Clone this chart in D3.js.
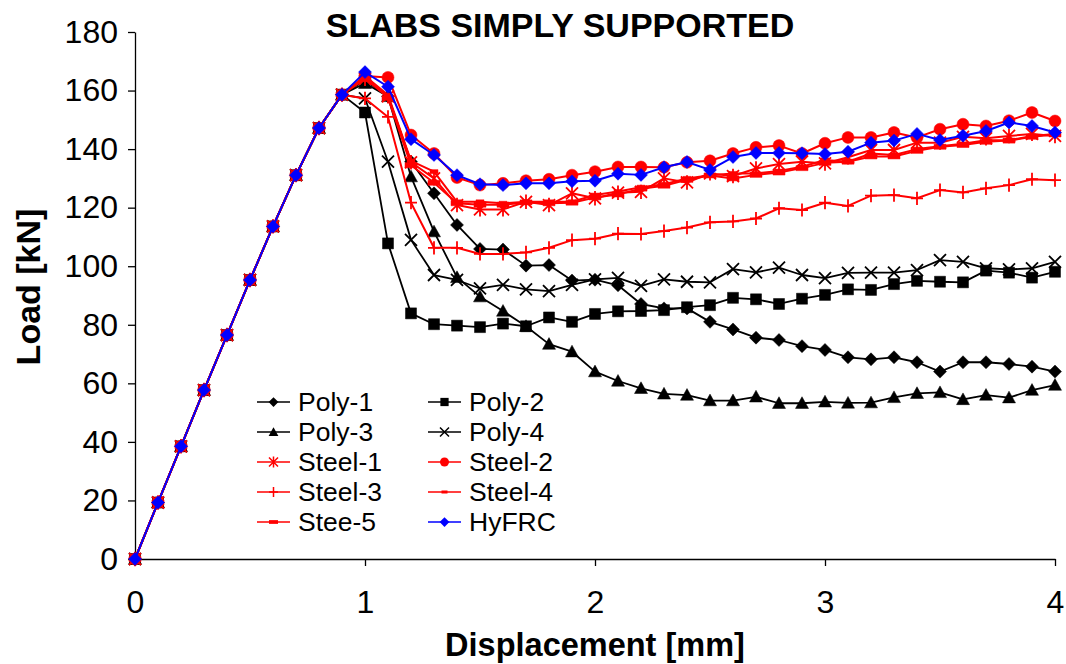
<!DOCTYPE html>
<html>
<head>
<meta charset="utf-8">
<script src="https://cdn.jsdelivr.net/npm/d3@7"></script>
<style>
  html, body { margin: 0; padding: 0; background: #fff; }
  svg { display: block; font-family: "Liberation Sans", Arial, sans-serif; }
</style>
</head>
<body>
<svg id="chart" width="1066" height="664"></svg>
<script>
// ---------- data ----------
const displacement = d3.range(0, 41).map(i => i / 10);
const xTicks = [0, 1, 2, 3, 4];
const yTicks = [0, 20, 40, 60, 80, 100, 120, 140, 160, 180];
const rise = [0, 19.3, 38.5, 57.7, 76.5, 95.3, 113.6, 131.1, 147.2, 158.6];

const poly1 = rise.concat([163.5, 158, 135.7, 124.9, 114.1, 105.9, 105.7, 100.2, 100.4, 95.1, 95.4, 93.5, 87.1, 85.6, 85.6, 81, 78.4, 75.6, 74.8, 72.7, 71.4, 68.9, 68.2, 68.9, 67.2, 64, 67.2, 67.2, 66.6, 65.7, 64]);
const poly2 = rise.concat([152.5, 107.8, 83.9, 80.2, 79.7, 79.2, 80.4, 79.5, 82.5, 81, 83.7, 84.6, 84.7, 85, 86, 86.7, 89.2, 88.7, 87.1, 88.9, 90.2, 92.1, 91.9, 93.9, 95, 94.7, 94.5, 98.5, 97.8, 96.1, 98.1]);
const poly3 = rise.concat([162.5, 158, 130.6, 111.8, 96.2, 89.6, 84.7, 79.5, 73.4, 70.8, 64, 60.8, 58.3, 56.4, 56, 54.1, 54.1, 55.4, 53.2, 53.2, 53.7, 53.3, 53.4, 55.2, 56.6, 56.9, 54.5, 56, 55.1, 57.7, 59.4]);
const poly4 = rise.concat([157.3, 135.7, 109, 97, 95.3, 92.4, 93.6, 92.1, 91.5, 93.6, 95.5, 96, 93.3, 95.5, 94.7, 94.5, 99, 97.9, 99.5, 97, 95.9, 97.7, 97.8, 97.8, 98.7, 102.1, 101.5, 99.3, 98.9, 99.3, 101.5]);
const steel1 = rise.concat([164, 158, 135.5, 130, 120.9, 119.4, 119.4, 122, 120.9, 124.9, 123.2, 125.1, 125.4, 130, 128.6, 131.7, 130.8, 133.4, 134.9, 135.7, 135.1, 137.2, 139.7, 139.7, 142.2, 142.2, 144.2, 143.7, 144.5, 145.2, 144.5]);
const steel2 = rise.concat([165, 164.5, 144.8, 138.5, 130.3, 127.7, 128.3, 129.2, 129.7, 131.1, 132.3, 133.9, 133.9, 133.8, 135.5, 136, 138.5, 140.6, 141.2, 138.5, 142, 144, 144, 145.7, 144, 146.8, 148.5, 147.9, 149.7, 152.5, 149.6]);
const steel3 = rise.concat([157.3, 151, 121.7, 106.3, 106.3, 104.2, 104.2, 104.7, 106.3, 108.9, 109.4, 111.1, 111, 112, 113.2, 115, 115.3, 116.3, 119.8, 119.2, 121.7, 120.6, 124.1, 124.3, 123.2, 126, 125.2, 126.6, 127.7, 129.7, 129.4]);
const steel4 = rise.concat([165, 158.5, 136, 132.3, 122, 122, 121.5, 122, 122, 122, 124.3, 125.5, 127, 128, 130, 131.1, 131.7, 131.7, 132.5, 134, 136.3, 135.7, 138.5, 138, 140, 141, 141.8, 143, 143, 144.5, 145.2]);
const stee5 = rise.concat([164.5, 157.5, 134.5, 128.5, 121.5, 121, 121, 121.8, 121.5, 121.7, 123.5, 124.5, 126.5, 127.5, 129.5, 131, 130, 131.2, 132, 133.5, 135.3, 135.7, 137.5, 137.5, 139.4, 140.8, 141.4, 142.5, 142.9, 144.2, 145]);
const hyfrc = rise.concat([166.3, 161.3, 143.4, 138, 131.1, 128, 127.7, 128.3, 128.3, 129, 129.2, 131.6, 131.2, 133.8, 135.6, 132.9, 137.3, 138.7, 138.7, 138.6, 138.3, 139.1, 142.2, 142.9, 145.2, 143.1, 144.6, 146.2, 149.1, 147.9, 145.7]);

const seriesNames = ["Poly-1", "Poly-2", "Poly-3", "Poly-4", "Steel-1", "Steel-2", "Steel-3", "Steel-4", "Stee-5", "HyFRC"];
const seriesValues = [poly1, poly2, poly3, poly4, steel1, steel2, steel3, steel4, stee5, hyfrc];

// ---------- styles ----------
const styles = {
  "Poly-1":  { color: "#000", marker: "diamond", lw: 1.8 },
  "Poly-2":  { color: "#000", marker: "square", lw: 1.8 },
  "Poly-3":  { color: "#000", marker: "triangle", lw: 1.8 },
  "Poly-4":  { color: "#000", marker: "x", lw: 1.8 },
  "Steel-1": { color: "#ff0000", marker: "star", lw: 2 },
  "Steel-2": { color: "#ff0000", marker: "circle", lw: 2 },
  "Steel-3": { color: "#ff0000", marker: "plus", lw: 2 },
  "Steel-4": { color: "#ff0000", marker: "smalldash", lw: 2 },
  "Stee-5":  { color: "#ff0000", marker: "dash", lw: 2 },
  "HyFRC":   { color: "#0000ff", marker: "diamond", lw: 2 }
};

function markerPath(type, s) {
  const p = d3.path();
  switch (type) {
    case "diamond": { const r = 6.5 * s; p.moveTo(0, -r); p.lineTo(r, 0); p.lineTo(0, r); p.lineTo(-r, 0); p.closePath(); break; }
    case "square": { const r = 5.5 * s; p.rect(-r, -r, 2 * r, 2 * r); break; }
    case "triangle": { const r = 6.5 * s; p.moveTo(0, -r); p.lineTo(r, r * 0.8); p.lineTo(-r, r * 0.8); p.closePath(); break; }
    case "circle": { const r = 6 * s; p.arc(0, 0, r, 0, 2 * Math.PI); break; }
    case "smalldash": { const w = 4 * s, h = 2 * s; p.rect(-w, -h, 2 * w, 2 * h); break; }
    case "dash": { const w = 6 * s, h = 2.5 * s; p.rect(-w, -h, 2 * w, 2 * h); break; }
  }
  return p.toString();
}
function strokeMarker(type, s) {
  const p = d3.path();
  const r = 6 * s;
  if (type === "x" || type === "star") {
    p.moveTo(-r, -r); p.lineTo(r, r); p.moveTo(-r, r); p.lineTo(r, -r);
  }
  if (type === "star") { p.moveTo(0, -r * 1.2); p.lineTo(0, r * 1.2); }
  if (type === "plus") { p.moveTo(-r, 0); p.lineTo(r, 0); p.moveTo(0, -r * 1.1); p.lineTo(0, r * 1.1); }
  return p.toString();
}
const strokeTypes = new Set(["x", "star", "plus"]);

// ---------- chart ----------
const svg = d3.select("#chart");
const x = d3.scaleLinear().domain([0, 4]).range([135, 1055]);
const y = d3.scaleLinear().domain([0, 180]).range([559, 32]);

const yAxis = d3.axisLeft(y).tickValues(yTicks).tickSize(7).tickSizeOuter(0).tickPadding(10);
const xAxis = d3.axisBottom(x).tickValues(xTicks).tickFormat(d3.format("d")).tickSize(7).tickSizeOuter(0).tickPadding(24);

const gy = svg.append("g").attr("transform", "translate(135,0)").call(yAxis);
const gx = svg.append("g").attr("transform", "translate(0,559)").call(xAxis);
[gy, gx].forEach(g => {
  g.selectAll("path,line").attr("stroke", "#000").attr("stroke-width", 1.3);
  g.selectAll("text").attr("font-size", 32).attr("fill", "#000").attr("font-family", "Liberation Sans, Arial, sans-serif");
});

const line = d3.line().x((d, i) => x(displacement[i])).y(d => y(d));
seriesNames.forEach((name, k) => {
  const st = styles[name];
  const vals = seriesValues[k];
  const g = svg.append("g");
  g.append("path").attr("d", line(vals)).attr("fill", "none")
    .attr("stroke", st.color).attr("stroke-width", st.lw).attr("stroke-linejoin", "round");
  const pts = g.selectAll("path.m").data(vals).enter().append("path").attr("class", "m")
    .attr("transform", (d, i) => `translate(${x(displacement[i])},${y(d)})`);
  if (strokeTypes.has(st.marker)) {
    pts.attr("d", strokeMarker(st.marker, 1)).attr("fill", "none").attr("stroke", st.color).attr("stroke-width", 1.8);
  } else {
    pts.attr("d", markerPath(st.marker, 1)).attr("fill", st.color).attr("stroke", st.color).attr("stroke-width", 0.5);
  }
});

// legend
const legendCols = [257, 428];
const legendRows = [402, 432, 462, 492, 522];
seriesNames.forEach((name, k) => {
  const st = styles[name];
  const lx = legendCols[k % 2];
  const ly = legendRows[Math.floor(k / 2)];
  const g = svg.append("g").attr("transform", `translate(${lx},${ly})`);
  g.append("line").attr("x1", 0).attr("x2", 33).attr("y1", 0).attr("y2", 0)
    .attr("stroke", st.color).attr("stroke-width", st.lw - 0.3);
  const m = g.append("path").attr("transform", "translate(16.5,0)");
  if (strokeTypes.has(st.marker)) {
    m.attr("d", strokeMarker(st.marker, 0.75)).attr("fill", "none").attr("stroke", st.color).attr("stroke-width", 1.5);
  } else {
    m.attr("d", markerPath(st.marker, 0.75)).attr("fill", st.color);
  }
  g.append("text").attr("x", 41).attr("y", 0).attr("dy", "0.35em")
    .attr("font-size", 26.5).attr("fill", "#000").text(name);
});

// titles
svg.append("text").attr("x", 560).attr("y", 37).attr("text-anchor", "middle")
  .attr("font-size", 34).attr("font-weight", "bold").text("SLABS SIMPLY SUPPORTED");
svg.append("text").attr("x", 595).attr("y", 656).attr("text-anchor", "middle")
  .attr("font-size", 32.5).attr("font-weight", "bold").text("Displacement [mm]");
svg.append("text").attr("transform", "translate(40,287) rotate(-90)").attr("text-anchor", "middle")
  .attr("font-size", 34).attr("font-weight", "bold").text("Load [kN]");
</script>
</body>
</html>
